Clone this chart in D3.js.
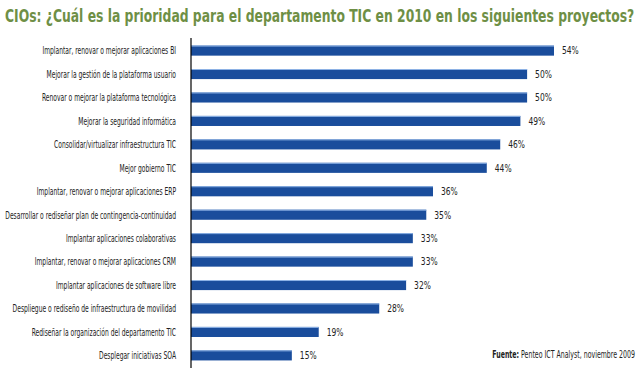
<!DOCTYPE html>
<html><head><meta charset="utf-8">
<script src="https://cdn.jsdelivr.net/npm/d3@7"></script>
<style>body{margin:0;background:#fff}svg{display:block}</style>
</head><body>
<script>
const categories = [
  "Implantar, renovar o mejorar aplicaciones BI",
  "Mejorar la gestión de la plataforma usuario",
  "Renovar o mejorar la plataforma tecnológica",
  "Mejorar la seguridad informática",
  "Consolidar/virtualizar infraestructura TIC",
  "Mejor gobierno TIC",
  "Implantar, renovar o mejorar aplicaciones ERP",
  "Desarrollar o rediseñar plan de contingencia-continuidad",
  "Implantar aplicaciones colaborativas",
  "Implantar, renovar o mejorar aplicaciones CRM",
  "Implantar aplicaciones de software libre",
  "Despliegue o rediseño de infraestructura de movilidad",
  "Rediseñar la organización del departamento TIC",
  "Desplegar iniciativas SOA"
];
const values = [54, 50, 50, 49, 46, 44, 36, 35, 33, 33, 32, 28, 19, 15];
const title = "CIOs: ¿Cuál es la prioridad para el departamento TIC en 2010 en los siguientes proyectos?";
const sourceBold = "Fuente:";
const sourceText = " Penteo ICT Analyst, noviembre 2009";

const W = 640, H = 380;
const svg = d3.select("body").append("svg").attr("width", W).attr("height", H);
const font = "'DejaVu Sans Condensed','Liberation Sans Narrow',sans-serif";

const x0 = 191;
const x = d3.scaleLinear().domain([0, 54]).range([x0, 554]);
const y = d3.scaleBand().domain(categories).range([39, 367]).paddingInner(0.57).paddingOuter(0.28);

// squeeze a group horizontally around an anchor x so that its width fits a target
function squeeze(sel, anchorX, width, target) {
  const k = Math.min(1, target / width);
  sel.attr("transform", `translate(${anchorX},0) scale(${k},1) translate(${-anchorX},0)`);
}

const tg = svg.append("g");
const tt = tg.append("text").attr("x", 5).attr("y", 22)
  .attr("font-family", font).attr("font-weight", "bold").attr("font-size", 17.5)
  .attr("fill", "#6e8f45").text(title);
squeeze(tg, 5, tt.node().getComputedTextLength(), 630);

const g = svg.append("g");
g.selectAll("rect.bar").data(values).join("rect").attr("class", "bar")
  .attr("x", x0).attr("y", (d, i) => y(categories[i]))
  .attr("width", d => x(d) - x0).attr("height", y.bandwidth())
  .attr("fill", "#1a4d9c");
g.selectAll("rect.hl").data(values).join("rect").attr("class", "hl")
  .attr("x", x0).attr("y", (d, i) => y(categories[i]))
  .attr("width", d => x(d) - x0).attr("height", 1)
  .attr("fill", "#8fb4e6");

g.selectAll("g.val").data(values).join("g").attr("class", "val").each(function(d, i) {
  const gg = d3.select(this);
  const tx = x(d) + 8;
  const t = gg.append("text").attr("x", tx).attr("y", y(categories[i]) + y.bandwidth() / 2 + 3.8)
    .attr("font-family", font).attr("font-size", 10.5).attr("fill", "#222").text(d + "%");
  squeeze(gg, tx, 1, 0.8);
});

const lg = svg.append("g");
lg.selectAll("text.cat").data(categories).join("text").attr("class", "cat")
  .attr("x", 176).attr("y", d => y(d) + y.bandwidth() / 2 + 3.8)
  .attr("text-anchor", "end")
  .attr("font-family", font).attr("font-size", 10.5).attr("fill", "#222")
  .text(d => d);
const maxW = d3.max(lg.selectAll("text.cat").nodes(), n => n.getComputedTextLength());
squeeze(lg, 176, maxW, 171);

const axis = d3.axisLeft(y).tickSize(0).tickFormat("");
const ax = svg.append("g").attr("transform", `translate(${x0},0)`).call(axis);
ax.select(".domain").attr("d", `M0,38V368`).attr("stroke", "#000").attr("stroke-width", 1.2);

const sg = svg.append("g");
const src = sg.append("text").attr("x", 635).attr("y", 358).attr("text-anchor", "end")
  .attr("font-family", font).attr("font-size", 10.5).attr("fill", "#222");
src.append("tspan").attr("font-weight", "bold").text(sourceBold);
src.append("tspan").text(sourceText);
squeeze(sg, 635, src.node().getComputedTextLength(), 143);
</script>
</body></html>
